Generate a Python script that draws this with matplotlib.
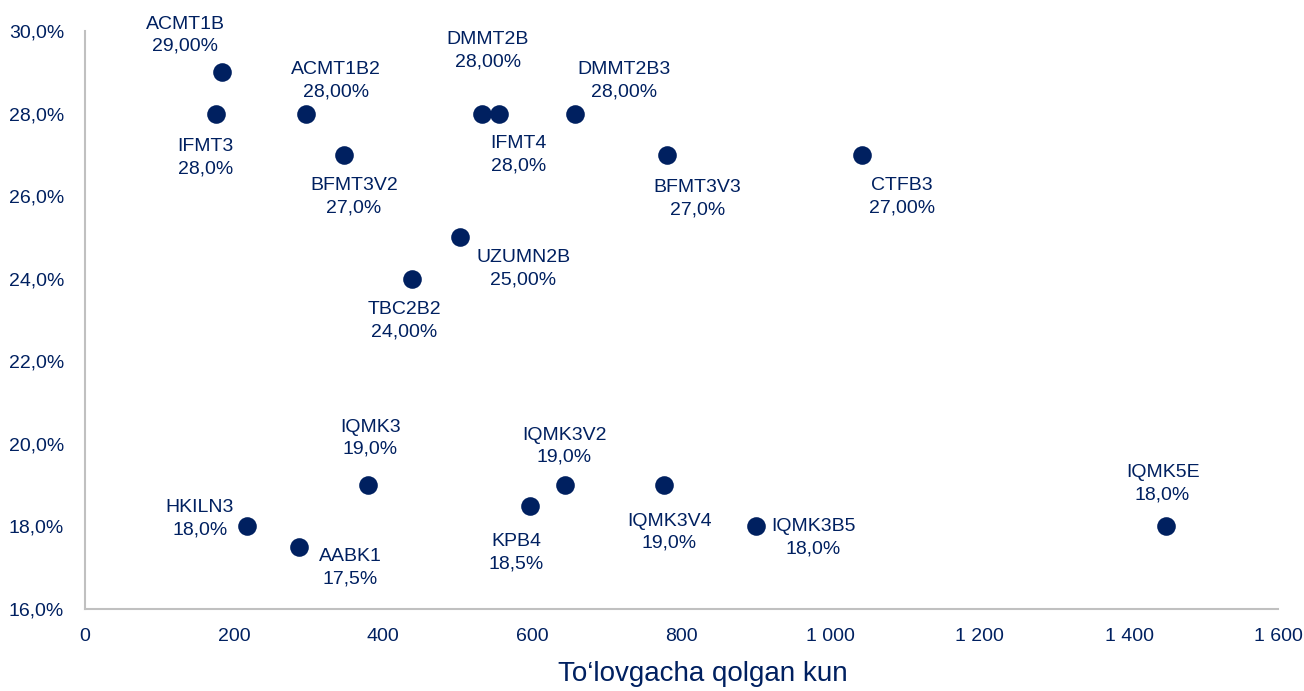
import matplotlib.pyplot as plt
from matplotlib.ticker import FuncFormatter

names = ["ACMT1B", "IFMT3", "ACMT1B2", "BFMT3V2", "DMMT2B", "IFMT4", "DMMT2B3",
         "BFMT3V3", "CTFB3", "UZUMN2B", "TBC2B2", "IQMK3", "HKILN3", "AABK1",
         "KPB4", "IQMK3V2", "IQMK3V4", "IQMK3B5", "IQMK5E"]
days = [184, 176, 296, 347, 532, 555, 657, 781, 1042, 503, 439, 380, 217, 287,
        597, 644, 777, 900, 1449]
rates = [29.0, 28.0, 28.0, 27.0, 28.0, 28.0, 28.0, 27.0, 27.0, 25.0, 24.0, 19.0,
         18.0, 17.5, 18.5, 19.0, 19.0, 18.0, 18.0]
labels = ["29,00%", "28,0%", "28,00%", "27,0%", "28,00%", "28,0%", "28,00%",
          "27,0%", "27,00%", "25,00%", "24,00%", "19,0%", "18,0%", "17,5%",
          "18,5%", "19,0%", "19,0%", "18,0%", "18,0%"]
# label offsets in pixels
offsets = [(-37, 37), (-11, -44), (30, 33), (10, -42), (6, 63), (20, -41),
           (49, 33), (30, -44), (40, -42), (63, -31), (-8, -42), (2, 47),
           (-47, 8), (51, -21), (-14, -47), (-1, 39), (5, -47), (57, -11),
           (-3, 43)]

navy = "#002060"
plt.rcParams['font.family'] = ['Liberation Sans', 'DejaVu Sans']

fig = plt.figure(figsize=(13.04, 6.91), dpi=100)
ax = fig.add_axes([0.0652, 0.1187, 0.915, 0.8363])

ax.scatter(days, rates, s=180, color=navy, zorder=3, linewidths=0)
for n, d, r, l, off in zip(names, days, rates, labels, offsets):
    ax.annotate(n + "\n" + l, (d, r), xytext=off, textcoords='offset pixels',
                ha='center', va='center', fontsize=14, color=navy, linespacing=1.4)

ax.set_xlim(0, 1600)
ax.set_ylim(16, 30)
ax.set_xticks(range(0, 1601, 200))
ax.set_yticks(range(16, 31, 2))
ax.xaxis.set_major_formatter(FuncFormatter(lambda v, p: f"{int(v):,}".replace(",", " ")))
ax.yaxis.set_major_formatter(FuncFormatter(lambda v, p: f"{v:.1f}%".replace(".", ",")))
ax.tick_params(length=0, labelsize=14, colors=navy, pad=15)
ax.tick_params(axis='x', pad=14)
ax.set_xlabel("To‘lovgacha qolgan kun", fontsize=20, color=navy)
ax.xaxis.set_label_coords(0.518, -0.09)

for s in ["top", "right"]:
    ax.spines[s].set_visible(False)
for s in ["left", "bottom"]:
    ax.spines[s].set_color("#c0c0c0")
    ax.spines[s].set_linewidth(1.5)

fig.savefig("out.png", dpi=100)
